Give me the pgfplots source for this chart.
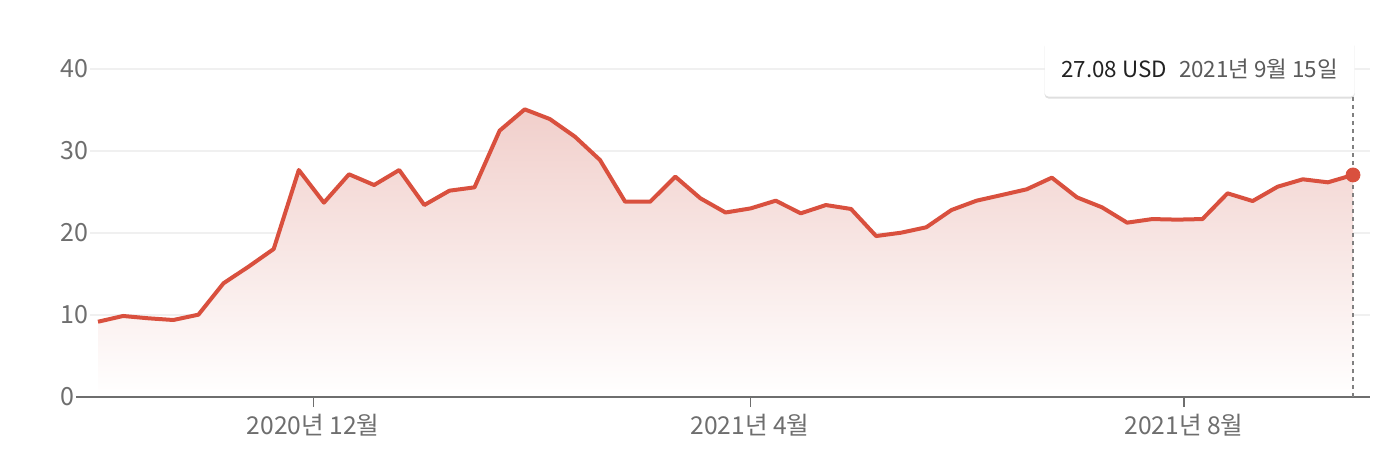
\documentclass[border=0pt]{standalone}
\usepackage{fontspec}
\setmainfont{Noto Sans CJK KR}
\usepackage{pgfplots}
\pgfplotsset{compat=1.18}
\usetikzlibrary{shadows}
\definecolor{linered}{HTML}{D9503E}
\definecolor{filltop}{HTML}{F1CFCB}
\definecolor{tickgray}{HTML}{6E6E6E}
\definecolor{gridgray}{HTML}{F0F0F0}
\begin{document}
\begin{tikzpicture}
\begin{axis}[
  at={(0,0)}, anchor=south west,
  scale only axis, width=640pt, height=164pt,
  xmin=-0.319, xmax=50.677, ymin=0, ymax=40,
  axis line style={draw=none},
  axis x line=bottom, axis y line=left,
  clip=false,
  ytick={0,10,20,30,40},
  ymajorgrids, grid style={gridgray, line width=0.8pt},
  y tick style={draw=none},
  yticklabel style={anchor=west, xshift=-10pt, inner sep=0pt, text=tickgray, font=\fontsize{12.5}{14}\selectfont},
  xtick={8.57,25.98,43.27},
  xticklabels={2020년 12월, 2021년 4월, 2021년 8월},
  xticklabel style={text=tickgray, font=\fontsize{12.3}{14}\selectfont, yshift=0pt},
  x tick style={draw=tickgray, line width=0.6pt},
  major tick length=5pt,
  tick align=outside,
  /pgf/number format/assume math mode=true,
]
\addplot[draw=none, top color=filltop, bottom color=white] coordinates {
(0,9.18) (1,9.88) (2,9.6) (3,9.39) (4,10.04) (5,13.87) (6,15.9) (7,18.05) (8,27.68) (9,23.7)
(10,27.16) (11,25.85) (12,27.68) (13,23.41) (14,25.16) (15,25.57) (16,32.48) (17,35.08) (18,33.9) (19,31.75)
(20,28.9) (21,23.82) (22,23.82) (23,26.87) (24,24.23) (25,22.5) (26,23.0) (27,23.94) (28,22.4) (29,23.41)
(30,22.93) (31,19.63) (32,20.04) (33,20.7) (34,22.8) (35,23.94) (36,24.63) (37,25.33) (38,26.75) (39,24.35)
(40,23.13) (41,21.26) (42,21.7) (43,21.63) (44,21.7) (45,24.84) (46,23.9) (47,25.65) (48,26.55) (49,26.18)
(50,27.08)
} \closedcycle;
\draw[tickgray, line width=1pt] (axis cs:-0.876,0) -- (axis cs:50.677,0);
\draw[gray, dashed, line width=0.7pt, dash pattern=on 2pt off 2pt] (axis cs:50,0) -- (axis cs:50,36.59);
\addplot[linered, line width=2pt, line join=round, mark=none] coordinates {
(0,9.18) (1,9.88) (2,9.6) (3,9.39) (4,10.04) (5,13.87) (6,15.9) (7,18.05) (8,27.68) (9,23.7)
(10,27.16) (11,25.85) (12,27.68) (13,23.41) (14,25.16) (15,25.57) (16,32.48) (17,35.08) (18,33.9) (19,31.75)
(20,28.9) (21,23.82) (22,23.82) (23,26.87) (24,24.23) (25,22.5) (26,23.0) (27,23.94) (28,22.4) (29,23.41)
(30,22.93) (31,19.63) (32,20.04) (33,20.7) (34,22.8) (35,23.94) (36,24.63) (37,25.33) (38,26.75) (39,24.35)
(40,23.13) (41,21.26) (42,21.7) (43,21.63) (44,21.7) (45,24.84) (46,23.9) (47,25.65) (48,26.55) (49,26.18)
(50,27.08)
};
\addplot[only marks, mark=*, mark size=3.5pt, linered] coordinates {(50,27.08)};
\node[anchor=south east, fill=white, rounded corners=2pt, minimum width=155pt, minimum height=28pt,
  drop shadow={opacity=0.25, shadow xshift=0pt, shadow yshift=-1pt}, font=\fontsize{11.2}{13}\selectfont]
  at (axis cs:50.08,36.59) {\textcolor[HTML]{222222}{27.08 USD}\hspace{6pt}\textcolor[HTML]{5A5A5A}{2021년 9월 15일}};
\end{axis}
\path[use as bounding box] (-45pt,-34.5pt) rectangle (654pt,198.5pt);
\end{tikzpicture}
\end{document}
